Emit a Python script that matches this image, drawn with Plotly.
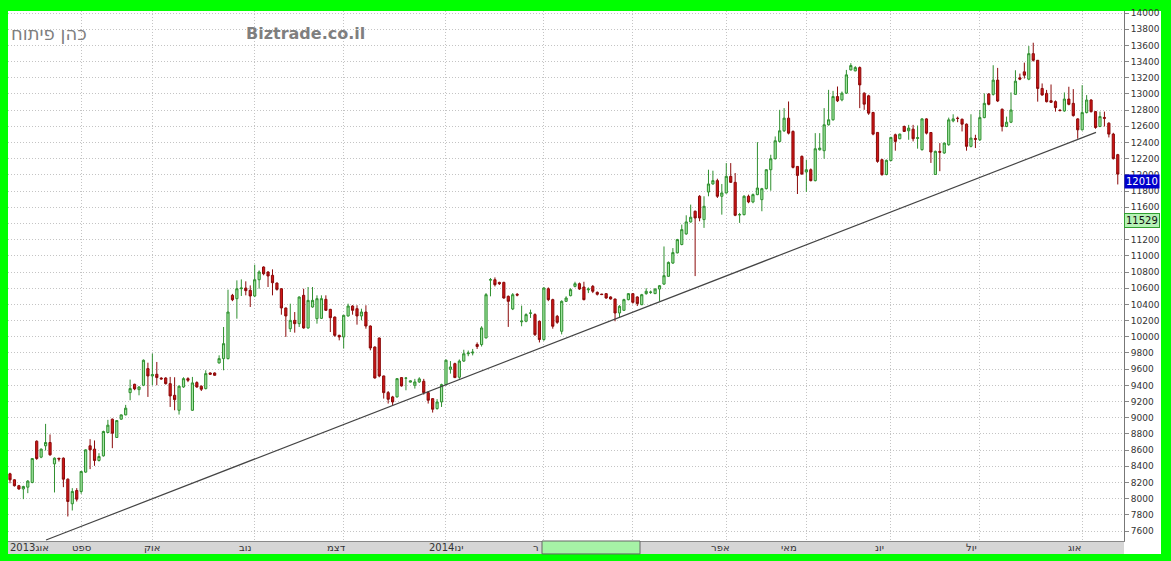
import plotly.graph_objects as go

# ---------------- data ----------------
open_ = [8307, 8233, 8160, 8120, 8142, 8200, 8710, 8513, 8653, 8694,
         8430, 8500, 8500, 8241, 7937, 8101, 8089, 8328, 8653, 8612,
         8472, 8529, 8817, 8982, 8756, 8982, 9035, 9310, 9413, 9347,
         9401, 9607, 9516, 9537, 9490, 9491, 9421, 9277, 9092, 9380,
         9483, 9092, 9434, 9389, 9360, 9553, 9553, 9677, 9730, 9730,
         10512, 10471, 10594, 10602, 10574, 10504, 10705, 10862, 10800, 10759,
         10664, 10594, 10356, 10100, 10203, 10162, 10512, 10109, 10368, 10224,
         10228, 10463, 10339, 10244, 10018, 9998, 10257, 10380, 10347, 10257,
         10306, 10133, 9874, 9985, 9516, 9310, 9257, 9257, 9496, 9488,
         9440, 9401, 9442, 9450, 9310, 9236, 9113, 9195, 9409, 9598,
         9668, 9500, 9700, 9790, 9800, 9905, 9904, 9986, 10700, 10705,
         10672, 10672, 10500, 10344, 10525, 10185, 10192, 10290, 10274, 10192,
         9966, 10594, 10459, 10253, 10068, 10438, 10508, 10623, 10656, 10615,
         10580, 10623, 10549, 10528, 10533, 10492, 10467, 10294, 10327, 10459,
         10533, 10492, 10397, 10533, 10549, 10533, 10590, 10651, 10747, 10911,
         11037, 11140, 11271, 11419, 11551, 11736, 11448, 11789, 11888, 11929,
         11736, 11777, 11982, 11908, 11505, 11509, 11736, 11666, 11756, 11694,
         11830, 12064, 12200, 12414, 12545, 12701, 12537, 12105, 12229, 12036,
         12064, 11929, 12311, 12299, 12619, 12681, 12968, 12927, 13010, 13297,
         13285, 13326, 13010, 12977, 12771, 12525, 12188, 12005, 12177, 12496,
         12447, 12598, 12545, 12565, 12450, 12312, 12692, 12524, 12005, 12290,
         12271, 12373, 12667, 12700, 12688, 12627, 12353, 12450, 12434, 12708,
         13000, 12995, 13171, 12811, 12598, 12651, 12995, 13200, 13273, 13183,
         13498, 13416, 13068, 13007, 12917, 12905, 12800, 12790, 12937, 12884,
         12692, 12557, 12770, 12925, 12782, 12598, 12710, 12639, 12504, 12250]
high = [8320, 8240, 8170, 8160, 8230, 8500, 8720, 8620, 8924, 8793,
        8510, 8500, 8510, 8250, 8130, 8130, 8340, 8610, 8735, 8719,
        8562, 8840, 8974, 8990, 8970, 9040, 9159, 9471, 9420, 9390,
        9720, 9680, 9792, 9689, 9500, 9500, 9504, 9500, 9400, 9500,
        9500, 9504, 9450, 9400, 9586, 9560, 9560, 9771, 10121, 10582,
        10530, 10697, 10709, 10685, 10635, 10891, 10820, 10870, 10810, 10833,
        10670, 10600, 10360, 10409, 10306, 10500, 10594, 10615, 10615, 10512,
        10512, 10512, 10345, 10250, 10025, 10270, 10409, 10390, 10390, 10347,
        10389, 10140, 9880, 9990, 9520, 9330, 9270, 9490, 9500, 9500,
        9460, 9480, 9500, 9480, 9330, 9240, 9230, 9420, 9720, 9700,
        9680, 9720, 9840, 9830, 9850, 9930, 10130, 10540, 10726, 10734,
        10680, 10680, 10510, 10540, 10540, 10385, 10290, 10336, 10290, 10200,
        10610, 10610, 10470, 10270, 10450, 10500, 10600, 10680, 10670, 10680,
        10610, 10640, 10560, 10530, 10540, 10500, 10470, 10390, 10470, 10540,
        10540, 10500, 10530, 10600, 10570, 10600, 10640, 11116, 10930, 11096,
        11210, 11386, 11501, 11633, 11560, 11750, 11736, 12064, 12052, 11953,
        11888, 12146, 12146, 12023, 11530, 11750, 11756, 11770, 12405, 11840,
        12070, 12249, 12475, 12804, 12825, 12907, 12550, 12110, 12240, 12188,
        12080, 12516, 12516, 12825, 13051, 13038, 13092, 13030, 13297, 13380,
        13343, 13340, 13020, 12990, 12780, 12530, 12200, 12190, 12470, 12510,
        12510, 12610, 12618, 12618, 12610, 12700, 12700, 12530, 12300, 12393,
        12400, 12708, 12749, 12720, 12695, 12635, 12749, 12496, 12802, 13007,
        13010, 13355, 13322, 12820, 12720, 13019, 13293, 13252, 13387, 13592,
        13633, 13420, 13130, 13050, 13117, 12920, 12810, 13019, 13089, 13060,
        12700, 13109, 12986, 12935, 12790, 12782, 12782, 12650, 12520, 12260]
low = [8190, 8150, 8110, 7994, 8068, 8190, 8480, 8500, 8595, 8530,
       8077, 8459, 8142, 7780, 7854, 7965, 8060, 8320, 8365, 8406,
       8459, 8520, 8810, 8624, 8750, 8975, 9030, 9216, 9340, 9277,
       9390, 9257, 9401, 9401, 9470, 9410, 9133, 9092, 9039, 9370,
       9440, 9085, 9370, 9330, 9350, 9530, 9520, 9670, 9586, 9720,
       10440, 10224, 10504, 10512, 10368, 10490, 10594, 10760, 10615, 10512,
       10570, 10273, 9998, 10059, 10051, 10121, 10100, 10100, 10360, 10162,
       10220, 10320, 10059, 10000, 9956, 9854, 10250, 10273, 10150, 10203,
       10100, 9833, 9483, 9500, 9236, 9175, 9146, 9250, 9385, 9339,
       9435, 9360, 9430, 9286, 9175, 9064, 9100, 9133, 9400, 9545,
       9490, 9480, 9690, 9760, 9770, 9850, 9880, 9980, 10500, 10622,
       10640, 10470, 10122, 10330, 10500, 10130, 10180, 10233, 10010, 9930,
       9950, 10440, 10100, 10160, 10030, 10430, 10500, 10610, 10580, 10450,
       10540, 10540, 10510, 10515, 10470, 10460, 10192, 10233, 10320, 10450,
       10410, 10380, 10390, 10520, 10530, 10530, 10438, 10640, 10740, 10900,
       11030, 11130, 11260, 11410, 10750, 11427, 11345, 11736, 11880, 11715,
       11509, 11770, 11900, 11490, 11407, 11500, 11650, 11650, 11750, 11551,
       11820, 11805, 12190, 12400, 12530, 12500, 12080, 11764, 12000, 11789,
       11920, 11920, 12300, 12200, 12610, 12670, 12900, 12910, 13000, 13290,
       13280, 12825, 12804, 12742, 12490, 12150, 11990, 11995, 12170, 12299,
       12440, 12530, 12434, 12414, 12324, 12300, 12500, 12148, 12000, 12046,
       12260, 12360, 12650, 12651, 12537, 12299, 12340, 12332, 12420, 12700,
       12860, 12980, 12900, 12537, 12590, 12640, 12990, 13170, 13191, 13170,
       13400, 12905, 12980, 12895, 12890, 12782, 12785, 12780, 12860, 12720,
       12447, 12550, 12760, 12770, 12570, 12590, 12598, 12463, 12190, 11882]
close = [8233, 8160, 8120, 8150, 8217, 8496, 8496, 8612, 8694, 8542,
         8500, 8490, 8241, 7965, 8089, 7994, 8336, 8603, 8603, 8472,
         8521, 8830, 8908, 8809, 8965, 9035, 9118, 9360, 9356, 9380,
         9710, 9516, 9533, 9496, 9480, 9421, 9269, 9224, 9389, 9483,
         9463, 9430, 9380, 9352, 9545, 9537, 9524, 9730, 9915, 10306,
         10458, 10594, 10602, 10570, 10504, 10705, 10800, 10779, 10751, 10668,
         10586, 10356, 10257, 10203, 10162, 10491, 10109, 10450, 10450, 10471,
         10471, 10327, 10236, 10018, 9998, 10265, 10380, 10327, 10257, 10306,
         10133, 9862, 9491, 9516, 9310, 9228, 9195, 9483, 9393, 9490,
         9455, 9442, 9480, 9310, 9216, 9105, 9195, 9409, 9710, 9627,
         9496, 9700, 9790, 9800, 9810, 9880, 10109, 10520, 10706, 10644,
         10656, 10479, 10438, 10520, 10515, 10195, 10274, 10294, 10027, 9966,
         10603, 10459, 10130, 10179, 10438, 10479, 10582, 10656, 10590, 10459,
         10590, 10562, 10525, 10522, 10479, 10467, 10294, 10377, 10459, 10533,
         10426, 10410, 10520, 10562, 10552, 10590, 10631, 10755, 10919, 11040,
         11201, 11324, 11419, 11477, 11468, 11468, 11612, 11888, 11929, 11736,
         11777, 11982, 11908, 11501, 11510, 11736, 11666, 11756, 11838, 11830,
         12064, 12200, 12422, 12545, 12701, 12516, 12093, 11994, 12011, 12064,
         11929, 12323, 12331, 12619, 12681, 12968, 12915, 13010, 13236, 13351,
         13326, 13112, 12874, 12763, 12504, 12167, 12003, 12180, 12463, 12414,
         12504, 12537, 12578, 12447, 12460, 12692, 12516, 12283, 12291, 12280,
         12393, 12680, 12692, 12698, 12627, 12353, 12455, 12440, 12708, 12884,
         12872, 13171, 12913, 12598, 12651, 12802, 13158, 13183, 13232, 13498,
         13416, 13068, 12987, 12905, 12897, 12831, 12795, 12937, 12872, 12733,
         12557, 12770, 12925, 12782, 12586, 12721, 12700, 12504, 12201, 12010]

month_start_idx = [16, 32, 55, 75, 98, 120, 140, 161, 179, 198, 218, 241]
month_labels = ["2013אוג", "ספט", "אוק", "נוב", "דצמ", "2014ינו", "ר",
                "אפר", "מאי", "יונ", "יול", "אוג"]
month_label_pos = [4.7, 16.0, 32.1, 52.9, 73.5, 98.0, 119.4,
                   159.6, 175.1, 195.5, 216.2, 239.4]

trend_idx = [8.1, 244.1]
trend_val = [7489, 12526]

last_price = 12010
ref_price = 11529
y_ticks = list(range(7600, 14001, 200))

# ---------------- figure ----------------
W, H = 1171, 561
ML, MR, MT, MB = 8, 47, 8, 20
PW, PH = W - ML - MR, H - MT - MB
band_h = 13 / PH

FONT = "DejaVu Sans"
GRID = "#c4c4c4"
x = list(range(len(close)))

fig = go.Figure()
fig.add_trace(go.Candlestick(
    x=x, open=open_, high=high, low=low, close=close,
    increasing=dict(line=dict(color="#2f8f2f", width=1), fillcolor="#a3e8a3"),
    decreasing=dict(line=dict(color="#8b0a0a", width=1), fillcolor="#d01616"),
    whiskerwidth=0, showlegend=False, hoverinfo="skip"))
fig.add_trace(go.Scatter(
    x=trend_idx, y=trend_val, mode="lines",
    line=dict(color="#444444", width=1.2), showlegend=False, hoverinfo="skip"))

shapes = [
    dict(type="rect", xref="paper", yref="paper", x0=1, x1=(1161 - ML) / PW,
         y0=-band_h, y1=1, fillcolor="white", line=dict(width=0), layer="below"),
    dict(type="rect", xref="paper", yref="paper", x0=0, x1=1, y0=-band_h, y1=0,
         fillcolor="#d6d6d6", line=dict(width=0), layer="below"),
    dict(type="rect", xref="paper", yref="paper", x0=(542 - ML) / PW, x1=(640 - ML) / PW,
         y0=-band_h, y1=0, fillcolor="#a6f2a6", line=dict(color="#666666", width=1),
         layer="above"),
]

annotations = []
for lab, pos in zip(month_labels, month_label_pos):
    if lab == "ר":
        annotations.append(dict(x=pos, xref="x", xanchor="right",
                                y=-band_h / 2, yref="paper", yanchor="middle",
                                text=lab, showarrow=False,
                                font=dict(family=FONT, size=10, color="#333333")))
    elif pos < 6:
        annotations.append(dict(x=0, xref="paper", xanchor="left",
                                y=-band_h / 2, yref="paper", yanchor="middle",
                                text=lab, showarrow=False,
                                font=dict(family=FONT, size=10, color="#333333")))
    else:
        annotations.append(dict(x=pos, xref="x", xanchor="center",
                                y=-band_h / 2, yref="paper", yanchor="middle",
                                text=lab, showarrow=False,
                                font=dict(family=FONT, size=10, color="#333333")))

annotations += [
    dict(x=(9 - ML) / PW, xref="paper", xanchor="left", y=(541 - 31) / PH, yref="paper",
         yanchor="middle", text="כהן פיתוח", showarrow=False,
         font=dict(family=FONT, size=18, color="#7f7f7f")),
    dict(x=(244 - ML) / PW, xref="paper", xanchor="left", y=(541 - 31) / PH, yref="paper",
         yanchor="middle", text="<b>Biztrade.co.il</b>", showarrow=False,
         font=dict(family=FONT, size=16, color="#7f7f7f")),
    dict(x=1.0, xref="paper", xanchor="left", y=last_price, yref="y", yanchor="top",
         text=str(last_price), showarrow=False, bgcolor="#0000cc", borderpad=1,
         font=dict(family=FONT, size=10, color="white")),
    dict(x=1.0, xref="paper", xanchor="left", y=ref_price, yref="y", yanchor="top",
         text=str(ref_price), showarrow=False, bgcolor="#b5f2b5", bordercolor="#2f9f2f",
         borderwidth=1, borderpad=1, font=dict(family=FONT, size=10, color="#111111")),
]

fig.update_layout(
    width=W, height=H,
    margin=dict(l=ML, r=MR, t=MT, b=MB, pad=0),
    paper_bgcolor="#00ff00", plot_bgcolor="white",
    shapes=shapes, annotations=annotations,
    showlegend=False,
    xaxis=dict(range=[-0.45, 250.4], rangeslider=dict(visible=False),
               tickvals=month_start_idx, showticklabels=False, ticks="",
               showgrid=True, gridcolor=GRID, griddash="1px,2px", gridwidth=1,
               zeroline=False, showline=True, linecolor="#8a8a8a", linewidth=1,
               fixedrange=True),
    yaxis=dict(range=[7477, 14025], side="right", tickvals=y_ticks,
               ticktext=[str(v) for v in y_ticks],
               showgrid=True, gridcolor=GRID, griddash="1px,2px", gridwidth=1,
               zeroline=False, showline=True, linecolor="#777777", linewidth=1,
               ticks="outside", ticklen=4, tickcolor="#888888",
               tickfont=dict(family=FONT, size=9, color="#333333"),
               fixedrange=True),
)

fig.write_html("out.html", config={"displayModeBar": False},
               post_script="document.body.style.margin='0';document.body.style.overflow='hidden';")
